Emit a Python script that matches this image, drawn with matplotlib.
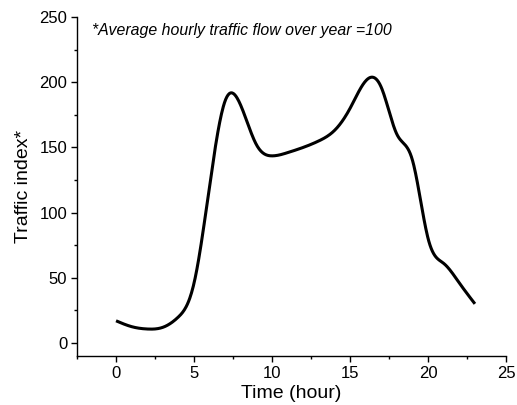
import numpy as np
import matplotlib
matplotlib.use('Agg')
import matplotlib.pyplot as plt
from matplotlib.ticker import MultipleLocator

# hourly traffic index (average hourly flow over year = 100)
hours = [0, 1, 2, 3, 4, 5, 6, 7, 8, 9, 10, 11,
         12, 13, 14, 15, 16, 17, 18, 19, 20, 21, 22, 23]
traffic = [17, 12.5, 10.7, 12, 20, 46, 121, 186, 182, 152, 143.5, 146,
           150, 155, 163, 180, 201, 196, 160, 140, 80, 61, 46, 30]

plt.rcParams.update({
    'font.family': ['Liberation Sans', 'DejaVu Sans'],
    'font.size': 11,
})


def natural_spline(x, y, n=600):
    # smooth connecting line (natural cubic spline) through the hourly points
    x = np.asarray(x, float)
    y = np.asarray(y, float)
    k = len(x)
    h = np.diff(x)
    A = np.zeros((k, k))
    b = np.zeros(k)
    A[0, 0] = A[-1, -1] = 1
    for i in range(1, k - 1):
        A[i, i - 1] = h[i - 1]
        A[i, i] = 2 * (h[i - 1] + h[i])
        A[i, i + 1] = h[i]
        b[i] = 6 * ((y[i + 1] - y[i]) / h[i] - (y[i] - y[i - 1]) / h[i - 1])
    m = np.linalg.solve(A, b)
    xs = np.linspace(x[0], x[-1], n)
    idx = np.clip(np.searchsorted(x, xs) - 1, 0, k - 2)
    x0, x1 = x[idx], x[idx + 1]
    hh = x1 - x0
    t0, t1 = x1 - xs, xs - x0
    ys = (m[idx] * t0**3 / (6 * hh) + m[idx + 1] * t1**3 / (6 * hh)
          + (y[idx] / hh - m[idx] * hh / 6) * t0
          + (y[idx + 1] / hh - m[idx + 1] * hh / 6) * t1)
    return xs, ys


fig = plt.figure(figsize=(5.17, 4.05), dpi=100)
ax = fig.add_axes([0.149, 0.121, 0.830, 0.837])

xs, ys = natural_spline(hours, traffic)
ax.plot(xs, ys, color='black', lw=2.2, solid_capstyle='butt')

ax.set_xlim(-2.5, 25)
ax.set_ylim(-10, 250)
ax.xaxis.set_major_locator(MultipleLocator(5))
ax.xaxis.set_minor_locator(MultipleLocator(2.5))
ax.yaxis.set_major_locator(MultipleLocator(50))
ax.yaxis.set_minor_locator(MultipleLocator(25))

for s in ['top', 'right']:
    ax.spines[s].set_visible(False)
for s in ['left', 'bottom']:
    ax.spines[s].set_linewidth(1.0)

ax.tick_params(which='major', direction='out', length=4, width=1.0,
               labelsize=12, pad=3)
ax.tick_params(which='minor', direction='out', length=2.5, width=1.0)

ax.set_xlabel('Time (hour)', fontsize=14, labelpad=3)
ax.set_ylabel('Traffic index*', fontsize=14, labelpad=5)

ax.text(-1.55, 240, '*Average hourly traffic flow over year =100',
        fontsize=11.4, style='italic', va='center', ha='left')

plt.savefig('out.png', dpi=100)
plt.close()
